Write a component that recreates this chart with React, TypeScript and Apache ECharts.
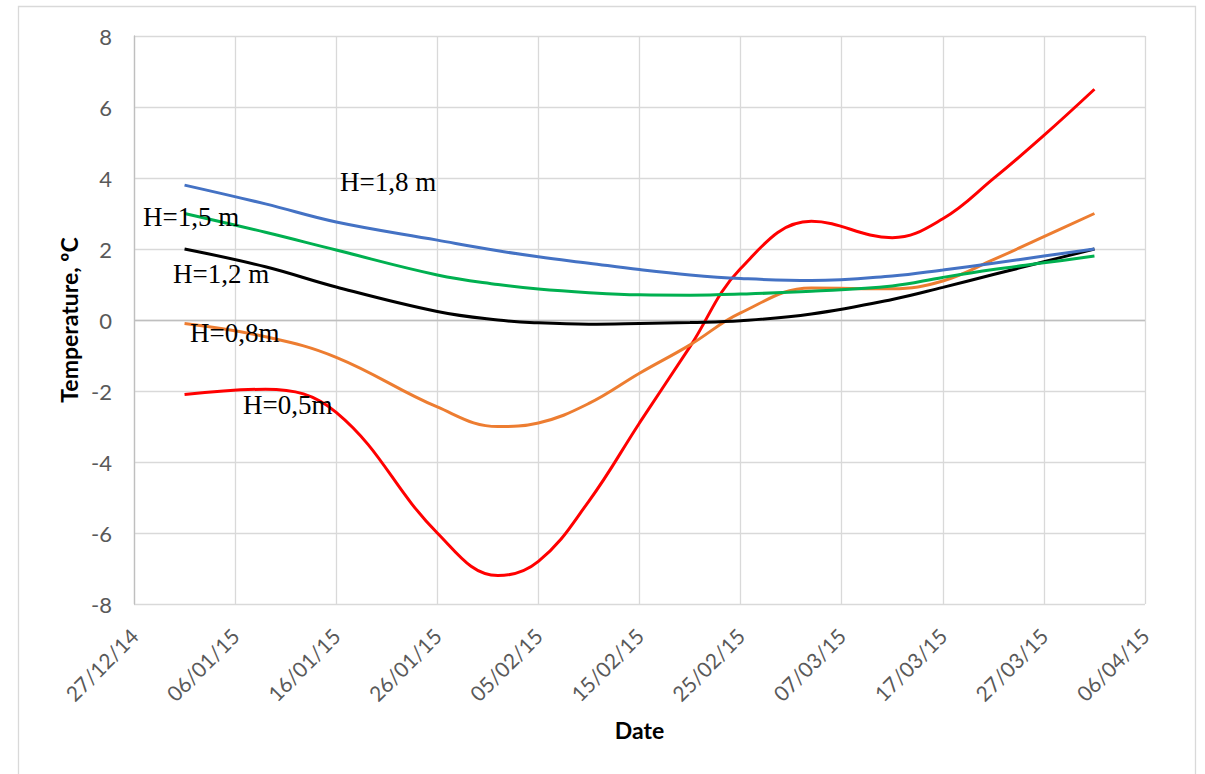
import React, { useEffect, useRef } from "react";
import * as echarts from "echarts";

const startDate = "2014-12-27";
const dates = [
  "2015-01-01", "2015-01-09", "2015-01-16", "2015-01-26", "2015-02-01", "2015-02-05",
  "2015-02-10", "2015-02-15", "2015-02-20", "2015-02-25", "2015-03-04", "2015-03-12",
  "2015-03-17", "2015-03-22", "2015-03-27", "2015-04-01",
];
const h05 = [-2.1, -1.95, -2.6, -6.0, -7.2, -6.8, -5.1, -2.9, -0.75, 1.45, 2.78, 2.32, 2.85, 3.98, 5.2, 6.5];
const h08 = [-0.1, -0.47, -1.05, -2.45, -3.0, -2.9, -2.35, -1.5, -0.7, 0.2, 0.9, 0.88, 1.1, 1.7, 2.35, 3.0];
const h12 = [2.0, 1.5, 0.93, 0.24, 0.0, -0.08, -0.12, -0.1, -0.07, -0.02, 0.17, 0.58, 0.92, 1.28, 1.64, 2.0];
const h15 = [3.0, 2.47, 1.97, 1.27, 1.0, 0.87, 0.77, 0.71, 0.7, 0.73, 0.81, 0.96, 1.2, 1.42, 1.61, 1.8];
const h18 = [3.8, 3.27, 2.76, 2.25, 1.95, 1.78, 1.6, 1.42, 1.27, 1.17, 1.11, 1.24, 1.41, 1.6, 1.8, 2.0];

const seriesNames = ["H=0,5m", "H=0,8m", "H=1,2 m", "H=1,5 m", "H=1,8 m"];
const seriesColors = ["#FF0000", "#ED7D31", "#000000", "#00B050", "#4472C4"];
const yTicks = { min: -8, max: 8, interval: 2 };
const xTicks = { min: 0, max: 100, interval: 10 };

const DAY = 86400000;
const t0 = Date.parse(startDate + "T00:00:00Z");
const dayOffset = (d: string) => Math.round((Date.parse(d + "T00:00:00Z") - t0) / DAY);
const fmt = (v: number) => {
  const d = new Date(t0 + v * DAY);
  const dd = String(d.getUTCDate()).padStart(2, "0");
  const mm = String(d.getUTCMonth() + 1).padStart(2, "0");
  const yy = String(d.getUTCFullYear() % 100).padStart(2, "0");
  return `${dd}/${mm}/${yy}`;
};

export default function App() {
  const ref = useRef<HTMLDivElement>(null);
  useEffect(() => {
    if (!ref.current) return;
    const chart = echarts.init(ref.current, null, { renderer: "svg" });
    const xs = dates.map(dayOffset);
    const all = [h05, h08, h12, h15, h18];
    const series: any[] = all.map((vals, i) => ({
      name: seriesNames[i],
      type: "line",
      data: xs.map((x, j) => [x, vals[j]]),
      smooth: 0.4,
      showSymbol: false,
      lineStyle: { color: seriesColors[i], width: 3 },
      itemStyle: { color: seriesColors[i] },
      z: 3 + i,
    }));
    series[0].markLine = {
      silent: true,
      symbol: "none",
      label: { show: false },
      lineStyle: { color: "#BFBFBF", width: 1.3, type: "solid" },
      data: [{ yAxis: 0 }],
      z: 1,
    };
    const serif = "'Liberation Serif', 'Times New Roman', serif";
    const labels = [
      { text: "H=1,8 m", x: 340, y: 182 },
      { text: "H=1,5 m", x: 143, y: 217 },
      { text: "H=1,2 m", x: 173, y: 274 },
      { text: "H=0,8m", x: 190, y: 333 },
      { text: "H=0,5m", x: 243, y: 405 },
    ];
    chart.setOption({
      animation: false,
      backgroundColor: "#ffffff",
      grid: { left: 134, top: 36, right: 60, bottom: 170, containLabel: false },
      xAxis: {
        type: "value",
        min: xTicks.min,
        max: xTicks.max,
        interval: xTicks.interval,
        name: "Date",
        nameLocation: "middle",
        nameGap: 114,
        nameTextStyle: { fontFamily: "Lato", fontWeight: "bold", fontSize: 23, color: "#000" },
        axisLine: { show: false },
        axisTick: { show: false },
        axisLabel: {
          rotate: 45,
          margin: 28,
          fontFamily: "Lato",
          fontSize: 21,
          color: "#595959",
          formatter: (v: number) => fmt(v),
        },
        splitLine: { show: true, lineStyle: { color: "#D9D9D9", width: 1.3 } },
      },
      yAxis: {
        type: "value",
        min: yTicks.min,
        max: yTicks.max,
        interval: yTicks.interval,
        name: "Temperature, ºC",
        nameLocation: "middle",
        nameGap: 54,
        nameTextStyle: { fontFamily: "Lato", fontWeight: "bold", fontSize: 23, color: "#000" },
        axisLine: { show: true, lineStyle: { color: "#BFBFBF", width: 1.3 } },
        axisTick: { show: false },
        axisLabel: { margin: 22, fontFamily: "Lato", fontSize: 22, color: "#595959" },
        splitLine: { show: true, lineStyle: { color: "#D9D9D9", width: 1.3 } },
      },
      graphic: [
        {
          type: "rect",
          shape: { x: 18.5, y: 6.5, width: 1177, height: 800 },
          style: { fill: "none", stroke: "#D9D9D9", lineWidth: 1.3 },
          silent: true,
          z: -10,
        },
        ...labels.map((l) => ({
          type: "text",
          x: l.x,
          y: l.y,
          z: 100,
          style: {
            text: l.text,
            fontFamily: serif,
            fontSize: 27,
            fill: "#000",
            textAlign: "left",
            textVerticalAlign: "middle",
          },
        })),
      ],
      series,
    });
    return () => chart.dispose();
  }, []);
  return (
    <div
      ref={ref}
      style={{ position: "absolute", left: 0, top: 0, width: 1205, height: 774 }}
    />
  );
}
